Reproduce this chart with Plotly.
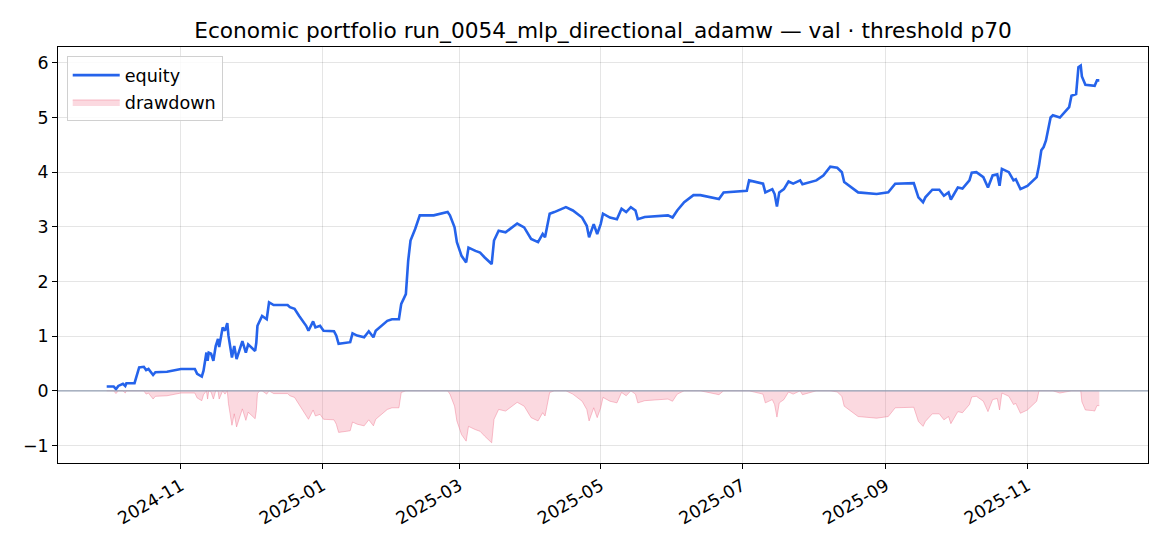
import plotly.graph_objects as go
import numpy as np

TITLE = "Economic portfolio run_0054_mlp_directional_adamw — val · threshold p70"

dates = [
    "2024-09-30", "2024-10-03", "2024-10-04", "2024-10-05", "2024-10-07", "2024-10-08",
    "2024-10-08 12:00", "2024-10-12", "2024-10-14", "2024-10-16", "2024-10-17", "2024-10-18",
    "2024-10-20", "2024-10-21", "2024-10-26", "2024-11-01", "2024-11-07", "2024-11-08",
    "2024-11-10", "2024-11-10 18:00", "2024-11-12", "2024-11-12 12:00", "2024-11-13", "2024-11-14",
    "2024-11-15", "2024-11-16", "2024-11-17", "2024-11-17 12:00", "2024-11-19", "2024-11-20",
    "2024-11-21", "2024-11-21 12:00", "2024-11-23", "2024-11-24", "2024-11-25", "2024-11-27",
    "2024-11-27 12:00", "2024-11-29", "2024-11-30", "2024-12-03", "2024-12-03 12:00", "2024-12-04",
    "2024-12-05", "2024-12-06", "2024-12-08", "2024-12-09", "2024-12-11", "2024-12-17",
    "2024-12-18", "2024-12-20", "2024-12-22", "2024-12-25", "2024-12-26", "2024-12-28",
    "2024-12-29", "2024-12-31", "2025-01-01 12:00", "2025-01-06", "2025-01-07", "2025-01-08",
    "2025-01-13", "2025-01-14", "2025-01-16", "2025-01-19", "2025-01-21", "2025-01-23",
    "2025-01-24", "2025-01-29", "2025-01-31", "2025-02-03", "2025-02-04", "2025-02-06",
    "2025-02-07", "2025-02-08", "2025-02-10", "2025-02-12", "2025-02-18", "2025-02-24",
    "2025-02-25", "2025-02-27", "2025-02-28", "2025-03-02", "2025-03-04", "2025-03-05",
    "2025-03-08", "2025-03-10", "2025-03-12", "2025-03-14", "2025-03-15", "2025-03-16",
    "2025-03-18", "2025-03-21", "2025-03-22", "2025-03-26", "2025-03-29", "2025-04-01",
    "2025-04-04", "2025-04-06", "2025-04-07", "2025-04-09", "2025-04-11", "2025-04-16",
    "2025-04-19", "2025-04-23", "2025-04-25", "2025-04-26", "2025-04-28", "2025-04-29 12:00",
    "2025-05-01", "2025-05-02", "2025-05-05", "2025-05-08", "2025-05-10", "2025-05-12",
    "2025-05-14", "2025-05-16", "2025-05-17", "2025-05-20", "2025-05-30", "2025-06-01",
    "2025-06-03", "2025-06-06", "2025-06-10", "2025-06-13", "2025-06-21", "2025-06-23",
    "2025-07-03", "2025-07-04", "2025-07-10", "2025-07-11", "2025-07-14", "2025-07-15",
    "2025-07-16", "2025-07-17", "2025-07-19", "2025-07-21", "2025-07-23", "2025-07-26",
    "2025-07-27", "2025-07-30", "2025-08-02", "2025-08-05", "2025-08-08", "2025-08-11",
    "2025-08-13", "2025-08-14", "2025-08-17", "2025-08-20", "2025-08-28", "2025-09-02",
    "2025-09-05", "2025-09-11", "2025-09-13", "2025-09-15", "2025-09-17", "2025-09-18",
    "2025-09-21", "2025-09-24", "2025-09-26", "2025-09-28", "2025-09-29", "2025-10-02",
    "2025-10-04", "2025-10-07", "2025-10-08", "2025-10-10", "2025-10-13", "2025-10-15",
    "2025-10-17", "2025-10-19", "2025-10-20", "2025-10-21", "2025-10-24", "2025-10-26",
    "2025-10-27", "2025-10-29", "2025-11-01", "2025-11-05", "2025-11-06", "2025-11-07",
    "2025-11-08", "2025-11-09", "2025-11-11", "2025-11-12", "2025-11-15", "2025-11-19",
    "2025-11-20", "2025-11-22", "2025-11-23", "2025-11-24", "2025-11-24 12:00", "2025-11-26",
    "2025-11-29", "2025-11-30", "2025-12-01", "2025-12-02",
]

equity = [
    0.08, 0.08, 0.03, 0.09, 0.13, 0.09,
    0.14, 0.14, 0.43, 0.44, 0.38, 0.40,
    0.29, 0.34, 0.35, 0.40, 0.40, 0.31,
    0.26, 0.37, 0.70, 0.55, 0.70, 0.68,
    0.55, 0.82, 0.95, 0.80, 1.16, 1.10,
    1.24, 1.01, 0.61, 0.82, 0.58, 0.82,
    0.91, 0.70, 0.85, 0.73, 0.88, 1.19,
    1.28, 1.37, 1.31, 1.62, 1.57, 1.57,
    1.53, 1.50, 1.37, 1.19, 1.10, 1.27,
    1.16, 1.19, 1.10, 1.09, 1.01, 0.86,
    0.89, 1.05, 1.01, 0.98, 1.09, 0.98,
    1.10, 1.28, 1.31, 1.31, 1.59, 1.77,
    2.38, 2.75, 2.96, 3.21, 3.21, 3.27,
    3.21, 2.99, 2.72, 2.47, 2.35, 2.62,
    2.56, 2.53, 2.44, 2.35, 2.32, 2.75,
    2.93, 2.90, 2.93, 3.06, 2.99, 2.78,
    2.72, 2.87, 2.81, 3.24, 3.27, 3.36,
    3.30, 3.17, 3.02, 2.81, 3.05, 2.87,
    3.05, 3.24, 3.17, 3.14, 3.33, 3.27,
    3.36, 3.30, 3.14, 3.18, 3.21, 3.17,
    3.30, 3.45, 3.58, 3.58, 3.51, 3.63,
    3.66, 3.85, 3.79, 3.63, 3.69, 3.60,
    3.37, 3.63, 3.69, 3.83, 3.79, 3.85,
    3.78, 3.82, 3.85, 3.94, 4.10, 4.08,
    4.00, 3.82, 3.72, 3.63, 3.60, 3.63,
    3.79, 3.80, 3.80, 3.54, 3.45, 3.54,
    3.68, 3.68, 3.57, 3.63, 3.50, 3.72,
    3.70, 3.85, 3.99, 4.00, 3.91, 3.72,
    3.94, 3.96, 3.75, 4.06, 4.00, 3.85,
    3.87, 3.69, 3.75, 3.91, 4.12, 4.40,
    4.46, 4.58, 5.00, 5.04, 5.00, 5.19,
    5.40, 5.43, 5.92, 5.95, 5.75, 5.60,
    5.59, 5.58, 5.68, 5.68,
]

x_tick_vals = ["2024-11-01", "2025-01-01", "2025-03-01", "2025-05-01",
               "2025-07-01", "2025-09-01", "2025-11-01"]
x_tick_text = ["2024-11", "2025-01", "2025-03", "2025-05", "2025-07", "2025-09", "2025-11"]
y_tick_vals = [-1, 0, 1, 2, 3, 4, 5, 6]

eq = np.array(equity)
drawdown = (eq - np.maximum.accumulate(eq)).tolist()

FONT = "DejaVu Sans, Verdana, sans-serif"

fig = go.Figure()
fig.add_trace(go.Scatter(
    x=dates, y=drawdown, name="drawdown", mode="lines",
    line=dict(color="rgba(240,120,145,0.45)", width=1),
    fill="tozeroy", fillcolor="rgba(240,120,145,0.28)",
    legendrank=2, legendgroup="dd",
))
fig.add_trace(go.Scatter(
    x=dates, y=equity, name="equity", mode="lines",
    line=dict(color="#2563eb", width=2.6),
    legendrank=1, legendgroup="eq",
))
fig.add_hline(y=0, line=dict(color="#94a0b4", width=1.2))

axis_common = dict(
    showline=True, linecolor="black", linewidth=1, mirror=True,
    ticks="outside", ticklen=5, tickcolor="black", tickwidth=1,
    showgrid=True, gridcolor="rgba(0,0,0,0.1)", gridwidth=1,
    zeroline=False, automargin=False,
    tickfont=dict(family=FONT, size=17.4, color="black"),
)

fig.update_layout(
    width=1154, height=530,
    paper_bgcolor="white", plot_bgcolor="white",
    margin=dict(l=50, r=14, t=39, b=75),
    title=dict(text=TITLE, xref="paper", x=0.5, xanchor="center",
               y=1 - 22 / 530, yanchor="middle",
               font=dict(family=FONT, size=21.7, color="black")),
    showlegend=True,
    legend=dict(x=0.008, y=0.978, xanchor="left", yanchor="top",
                bgcolor="rgba(255,255,255,0.85)", bordercolor="#d0d0d0", borderwidth=1,
                font=dict(family=FONT, size=17.6, color="black"),
                traceorder="grouped", tracegroupgap=1, itemwidth=47),
    xaxis=dict(range=["2024-09-09", "2025-12-23"], type="date",
               tickvals=x_tick_vals, ticktext=x_tick_text, tickangle=-30,
               **axis_common),
    yaxis=dict(range=[-1.32, 6.29], tickvals=y_tick_vals, **axis_common),
)

fig.write_html("out.html")
